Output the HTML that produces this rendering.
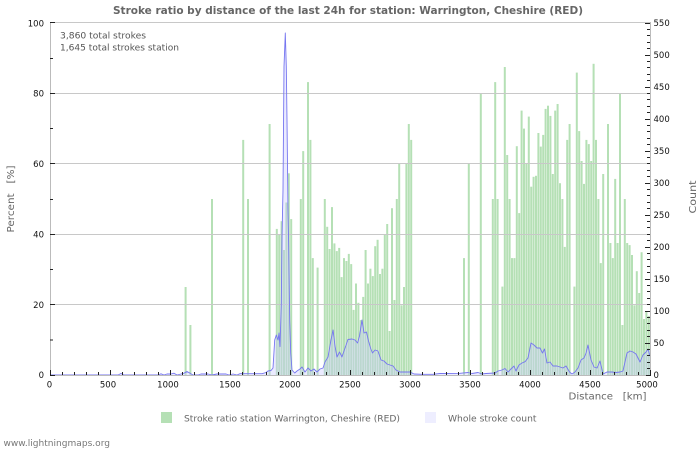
<!DOCTYPE html>
<html><head><meta charset="utf-8"><style>
html,body{margin:0;padding:0;background:#fff;}
svg{display:block;font-family:"DejaVu Sans","Liberation Sans",sans-serif;}
</style></head><body>
<svg width="700" height="450" viewBox="0 0 700 450" xmlns="http://www.w3.org/2000/svg">
<rect x="0" y="0" width="700" height="450" fill="#fff"/>
<text x="348" y="14" text-anchor="middle" font-size="10.5" font-weight="bold" fill="#666" textLength="470" lengthAdjust="spacingAndGlyphs">Stroke ratio by distance of the last 24h for station: Warrington, Cheshire (RED)</text>

<g fill="#b5e0b5">
<rect x="184.6" y="287" width="2" height="88"/>
<rect x="189.4" y="325" width="2" height="50"/>
<rect x="211" y="199" width="2" height="176"/>
<rect x="242.2" y="139.9" width="2" height="235.1"/>
<rect x="247" y="199" width="2" height="176"/>
<rect x="268.6" y="124" width="2" height="251"/>
<rect x="275.8" y="228.9" width="2" height="146.1"/>
<rect x="278.2" y="234.2" width="2" height="140.8"/>
<rect x="280.6" y="221.2" width="2" height="153.8"/>
<rect x="283" y="250" width="2" height="125"/>
<rect x="285.4" y="202.5" width="2" height="172.5"/>
<rect x="287.8" y="173.3" width="2" height="201.7"/>
<rect x="290.2" y="219.1" width="2" height="155.9"/>
<rect x="299.8" y="199" width="2" height="176"/>
<rect x="302.2" y="151.1" width="2" height="223.9"/>
<rect x="307" y="82.1" width="2" height="292.9"/>
<rect x="309.4" y="139.9" width="2" height="235.1"/>
<rect x="311.8" y="258.1" width="2" height="116.9"/>
<rect x="316.6" y="267.6" width="2" height="107.4"/>
<rect x="323.8" y="199" width="2" height="176"/>
<rect x="326.2" y="226.8" width="2" height="148.2"/>
<rect x="328.6" y="249" width="2" height="126"/>
<rect x="331" y="207.1" width="2" height="167.9"/>
<rect x="333.4" y="243.4" width="2" height="131.6"/>
<rect x="335.8" y="251.1" width="2" height="123.9"/>
<rect x="338.2" y="247.9" width="2" height="127.1"/>
<rect x="340.6" y="277.1" width="2" height="97.9"/>
<rect x="343" y="258.1" width="2" height="116.9"/>
<rect x="345.4" y="261" width="2" height="114"/>
<rect x="347.8" y="253.9" width="2" height="121.1"/>
<rect x="350.2" y="264.1" width="2" height="110.9"/>
<rect x="352.6" y="309.9" width="2" height="65.1"/>
<rect x="355" y="283.5" width="2" height="91.5"/>
<rect x="357.4" y="302.8" width="2" height="72.2"/>
<rect x="359.8" y="320.1" width="2" height="54.9"/>
<rect x="362.2" y="296.9" width="2" height="78.1"/>
<rect x="364.6" y="250" width="2" height="125"/>
<rect x="367" y="283.5" width="2" height="91.5"/>
<rect x="369.4" y="268.7" width="2" height="106.3"/>
<rect x="371.8" y="276.1" width="2" height="98.9"/>
<rect x="374.2" y="246.2" width="2" height="128.8"/>
<rect x="376.6" y="239.8" width="2" height="135.2"/>
<rect x="379" y="274" width="2" height="101"/>
<rect x="381.4" y="268.7" width="2" height="106.3"/>
<rect x="383.8" y="234.2" width="2" height="140.8"/>
<rect x="386.2" y="224" width="2" height="151"/>
<rect x="388.6" y="331" width="2" height="44"/>
<rect x="391" y="208.2" width="2" height="166.8"/>
<rect x="393.4" y="300" width="2" height="75"/>
<rect x="395.8" y="199" width="2" height="176"/>
<rect x="398.2" y="163.8" width="2" height="211.2"/>
<rect x="400.6" y="305.3" width="2" height="69.7"/>
<rect x="403" y="287" width="2" height="88"/>
<rect x="405.4" y="163.8" width="2" height="211.2"/>
<rect x="407.8" y="124" width="2" height="251"/>
<rect x="410.2" y="139.9" width="2" height="235.1"/>
<rect x="463" y="258.1" width="2" height="116.9"/>
<rect x="467.8" y="163.8" width="2" height="211.2"/>
<rect x="479.8" y="93.4" width="2" height="281.6"/>
<rect x="491.8" y="199" width="2" height="176"/>
<rect x="494.2" y="82.1" width="2" height="292.9"/>
<rect x="496.6" y="199" width="2" height="176"/>
<rect x="501.4" y="286.6" width="2" height="88.4"/>
<rect x="503.8" y="67" width="2" height="308"/>
<rect x="506.2" y="155" width="2" height="220"/>
<rect x="508.6" y="199" width="2" height="176"/>
<rect x="511" y="258.1" width="2" height="116.9"/>
<rect x="513.4" y="258.1" width="2" height="116.9"/>
<rect x="515.8" y="146.2" width="2" height="228.8"/>
<rect x="518.2" y="213.1" width="2" height="161.9"/>
<rect x="520.6" y="110.6" width="2" height="264.4"/>
<rect x="523" y="128.6" width="2" height="246.4"/>
<rect x="525.4" y="163.8" width="2" height="211.2"/>
<rect x="527.8" y="116.6" width="2" height="258.4"/>
<rect x="530.2" y="186.7" width="2" height="188.3"/>
<rect x="532.6" y="176.8" width="2" height="198.2"/>
<rect x="535" y="175.8" width="2" height="199.2"/>
<rect x="537.4" y="133" width="2" height="242"/>
<rect x="539.8" y="146.6" width="2" height="228.4"/>
<rect x="542.2" y="134.9" width="2" height="240.1"/>
<rect x="544.6" y="108.9" width="2" height="266.1"/>
<rect x="547" y="105.7" width="2" height="269.3"/>
<rect x="549.4" y="115.9" width="2" height="259.1"/>
<rect x="551.8" y="174" width="2" height="201"/>
<rect x="554.2" y="110.6" width="2" height="264.4"/>
<rect x="556.6" y="104" width="2" height="271"/>
<rect x="559" y="183.2" width="2" height="191.8"/>
<rect x="561.4" y="199" width="2" height="176"/>
<rect x="563.8" y="246.9" width="2" height="128.1"/>
<rect x="566.2" y="139.9" width="2" height="235.1"/>
<rect x="568.6" y="124" width="2" height="251"/>
<rect x="573.4" y="286.6" width="2" height="88.4"/>
<rect x="575.8" y="72.6" width="2" height="302.4"/>
<rect x="578.2" y="131.1" width="2" height="243.9"/>
<rect x="580.6" y="161" width="2" height="214"/>
<rect x="583" y="183.9" width="2" height="191.1"/>
<rect x="585.4" y="139.9" width="2" height="235.1"/>
<rect x="587.8" y="144.1" width="2" height="230.9"/>
<rect x="590.2" y="161" width="2" height="214"/>
<rect x="592.6" y="63.8" width="2" height="311.2"/>
<rect x="595" y="139.9" width="2" height="235.1"/>
<rect x="597.4" y="199" width="2" height="176"/>
<rect x="599.8" y="263.1" width="2" height="111.9"/>
<rect x="602.2" y="174" width="2" height="201"/>
<rect x="607" y="124" width="2" height="251"/>
<rect x="609.4" y="243" width="2" height="132"/>
<rect x="611.8" y="258.1" width="2" height="116.9"/>
<rect x="614.2" y="178.9" width="2" height="196.1"/>
<rect x="616.6" y="243" width="2" height="132"/>
<rect x="619" y="93.4" width="2" height="281.6"/>
<rect x="621.4" y="325" width="2" height="50"/>
<rect x="623.8" y="199" width="2" height="176"/>
<rect x="626.2" y="243" width="2" height="132"/>
<rect x="628.6" y="245.1" width="2" height="129.9"/>
<rect x="631" y="255" width="2" height="120"/>
<rect x="633.4" y="305.3" width="2" height="69.7"/>
<rect x="635.8" y="271.2" width="2" height="103.8"/>
<rect x="638.2" y="293" width="2" height="82"/>
<rect x="640.6" y="252.2" width="2" height="122.8"/>
<rect x="643" y="319" width="2" height="56"/>
<rect x="645.4" y="312" width="2" height="63"/>
<rect x="647.8" y="315.9" width="2" height="59.1"/>
</g>

<g stroke="#c8c8c8" stroke-width="1" fill="none">
<path d="M50,22.5H650 M50,93.5H650 M50,163.5H650 M50,234.5H650 M50,304.5H650"/>
</g>

<path fill="rgba(200,200,255,0.36)" stroke="none" d="M50,375 L118,375 121,373.5 124,375 158,375 161,373.8 164,375 167,374 171,374 174,373.2 177,375 181,374 184,373.2 187,371.5 190,373.2 193,375 198,375 201,374 208,374 212,375 217,374 226,374 229,375 233,374 237,375 240,373.7 262,373.7 266,372.5 268,371 271,370.5 273,368 274.7,340 276.3,335 278,340 279,333 280,346.7 281.3,303 282,236.7 283,190 284,66.7 285.3,33 286.3,66.7 287,120 288,210 288.7,246.7 289.7,320 290.7,353 292,370 294.7,373 297,371 300,369 302,367 305,372 308,368 311,371 314,369 317,372 320,369 323,368 325,362 328,357 331,340 333,330 335,346 337,357 339.5,352 342,357 345,348 348,339.5 352,339 355,340 357.5,343 359.5,336 362,320 364,333 366.5,332 368.5,341 370.5,348 372.5,353 375,350 378,351 381,360 384,361 387,364 390,365 393,366 396,370 400,372 410,372 414,374 422,374.3 433,374.3 440,373.5 460,373.3 468,372.5 472,373.5 478,372.5 482,374 486,373.5 495,373 498,371 502,370 505,368.5 508,372 511,369 514,366 516,371 519,365 522,363 525,361.7 528,358 531,343 534,345 537,348 540,348 542.5,353 544.5,349 547,363 550,362 553,366 557,366 560,367 563,368 566,366 569.5,372 572,374 575,372 578,368 581,360 584,358 586,353 588,345 591,360 594,367 597,368 600,361 603,374 607,372 612,372 616,372.5 620,372 623,371 627,353 630,351 633,352 636,354 640,362 643,355 646,352 648,349 650,356 L650,375 Z"/>
<polyline fill="none" stroke="#7676f0" stroke-width="0.9" stroke-linejoin="round" points="50,375 118,375 121,373.5 124,375 158,375 161,373.8 164,375 167,374 171,374 174,373.2 177,375 181,374 184,373.2 187,371.5 190,373.2 193,375 198,375 201,374 208,374 212,375 217,374 226,374 229,375 233,374 237,375 240,373.7 262,373.7 266,372.5 268,371 271,370.5 273,368 274.7,340 276.3,335 278,340 279,333 280,346.7 281.3,303 282,236.7 283,190 284,66.7 285.3,33 286.3,66.7 287,120 288,210 288.7,246.7 289.7,320 290.7,353 292,370 294.7,373 297,371 300,369 302,367 305,372 308,368 311,371 314,369 317,372 320,369 323,368 325,362 328,357 331,340 333,330 335,346 337,357 339.5,352 342,357 345,348 348,339.5 352,339 355,340 357.5,343 359.5,336 362,320 364,333 366.5,332 368.5,341 370.5,348 372.5,353 375,350 378,351 381,360 384,361 387,364 390,365 393,366 396,370 400,372 410,372 414,374 422,374.3 433,374.3 440,373.5 460,373.3 468,372.5 472,373.5 478,372.5 482,374 486,373.5 495,373 498,371 502,370 505,368.5 508,372 511,369 514,366 516,371 519,365 522,363 525,361.7 528,358 531,343 534,345 537,348 540,348 542.5,353 544.5,349 547,363 550,362 553,366 557,366 560,367 563,368 566,366 569.5,372 572,374 575,372 578,368 581,360 584,358 586,353 588,345 591,360 594,367 597,368 600,361 603,374 607,372 612,372 616,372.5 620,372 623,371 627,353 630,351 633,352 636,354 640,362 643,355 646,352 648,349 650,356"/>

<g stroke="#bbbbbb" stroke-width="1" fill="none">
<path d="M50.5,22V375.5 M650.5,22V375.5 M50,375.5H651"/>
</g>

<g stroke="#222" stroke-width="1" fill="none">
<path d="M50.5,375v-5 M62.5,375v-3 M74.5,375v-3 M86.5,375v-3 M98.5,375v-3 M110.5,375v-5 M122.5,375v-3 M134.5,375v-3 M146.5,375v-3 M158.5,375v-3 M170.5,375v-5 M182.5,375v-3 M194.5,375v-3 M206.5,375v-3 M218.5,375v-3 M230.5,375v-5 M242.5,375v-3 M254.5,375v-3 M266.5,375v-3 M278.5,375v-3 M290.5,375v-5 M302.5,375v-3 M314.5,375v-3 M326.5,375v-3 M338.5,375v-3 M350.5,375v-5 M362.5,375v-3 M374.5,375v-3 M386.5,375v-3 M398.5,375v-3 M410.5,375v-5 M422.5,375v-3 M434.5,375v-3 M446.5,375v-3 M458.5,375v-3 M470.5,375v-5 M482.5,375v-3 M494.5,375v-3 M506.5,375v-3 M518.5,375v-3 M530.5,375v-5 M542.5,375v-3 M554.5,375v-3 M566.5,375v-3 M578.5,375v-3 M590.5,375v-5 M602.5,375v-3 M614.5,375v-3 M626.5,375v-3 M638.5,375v-3 M650.5,375v-5"/>
<path d="M50,375.5h5 M50,340h3 M50,304.5h5 M50,269.5h3 M50,234.5h5 M50,199.5h3 M50,163.5h5 M50,128.5h3 M50,93.5h5 M50,58.5h3 M50,22.5h5"/>
<path d="M646,375.5h5 M647,368.5h3 M647,362.5h3 M647,355.5h3 M647,349.5h3 M645,343.5h5 M647,336.5h3 M647,330.5h3 M647,323.5h3 M647,317.5h3 M645,311.5h5 M647,304.5h3 M647,298.5h3 M647,291.5h3 M647,285.5h3 M645,279.5h5 M647,272.5h3 M647,266.5h3 M647,259.5h3 M647,253.5h3 M645,247.5h5 M647,240.5h3 M647,234.5h3 M647,227.5h3 M647,221.5h3 M645,215.5h5 M647,208.5h3 M647,202.5h3 M647,195.5h3 M647,189.5h3 M645,183.5h5 M647,176.5h3 M647,170.5h3 M647,163.5h3 M647,157.5h3 M645,151.5h5 M647,144.5h3 M647,138.5h3 M647,131.5h3 M647,125.5h3 M645,119.5h5 M647,112.5h3 M647,106.5h3 M647,99.5h3 M647,93.5h3 M645,87.5h5 M647,80.5h3 M647,74.5h3 M647,67.5h3 M647,61.5h3 M645,55.5h5 M647,48.5h3 M647,42.5h3 M647,35.5h3 M647,29.5h3 M645,23.5h5"/>
</g>

<g font-size="8.5" fill="#555">
<text x="60" y="38.5" textLength="86" lengthAdjust="spacingAndGlyphs">3,860 total strokes</text>
<text x="60" y="50.5" textLength="119" lengthAdjust="spacingAndGlyphs">1,645 total strokes station</text>
</g>

<g font-size="8.5" fill="#111" text-anchor="end">
<text x="44" y="26.5">100</text>
<text x="44" y="96.5">80</text>
<text x="44" y="167">60</text>
<text x="44" y="237.5">40</text>
<text x="44" y="308">20</text>
<text x="44" y="378">0</text>
</g>

<g font-size="8.5" fill="#111" text-anchor="start">
<text x="653.5" y="26">550</text>
<text x="653.5" y="58">500</text>
<text x="653.5" y="90">450</text>
<text x="653.5" y="122">400</text>
<text x="653.5" y="154">350</text>
<text x="653.5" y="186">300</text>
<text x="653.5" y="218">250</text>
<text x="653.5" y="250">200</text>
<text x="653.5" y="282">150</text>
<text x="653.5" y="314">100</text>
<text x="653.5" y="346">50</text>
<text x="653.5" y="378">0</text>
</g>

<g font-size="8.5" fill="#111" text-anchor="middle">
<text x="49.5" y="387.5">0</text>
<text x="108" y="387.5">500</text>
<text x="168" y="387.5">1000</text>
<text x="230" y="387.5">1500</text>
<text x="290" y="387.5">2000</text>
<text x="350" y="387.5">2500</text>
<text x="410" y="387.5">3000</text>
<text x="470" y="387.5">3500</text>
<text x="530" y="387.5">4000</text>
<text x="590" y="387.5">4500</text>
<text x="647" y="387.5">5000</text>
</g>

<g font-size="10" fill="#666">
<text x="568.5" y="399.5" textLength="78" lengthAdjust="spacingAndGlyphs" xml:space="preserve">Distance   [km]</text>
<text transform="translate(14,199) rotate(-90)" text-anchor="middle" textLength="67" lengthAdjust="spacingAndGlyphs" xml:space="preserve">Percent   [%]</text>
<text transform="translate(696,197) rotate(-90)" text-anchor="middle" textLength="33" lengthAdjust="spacingAndGlyphs">Count</text>
</g>

<rect x="161" y="412" width="11" height="11" fill="#b5e0b5"/>
<rect x="425" y="412" width="11" height="11" fill="#eeeeff"/>
<g font-size="8.8" fill="#666">
<text x="184" y="421.5" textLength="216" lengthAdjust="spacingAndGlyphs">Stroke ratio station Warrington, Cheshire (RED)</text>
<text x="448" y="421.5" textLength="88.5" lengthAdjust="spacingAndGlyphs">Whole stroke count</text>
</g>
<text x="3.5" y="446" font-size="8.8" fill="#777" textLength="106.5" lengthAdjust="spacingAndGlyphs">www.lightningmaps.org</text>
</svg>
</body></html>
